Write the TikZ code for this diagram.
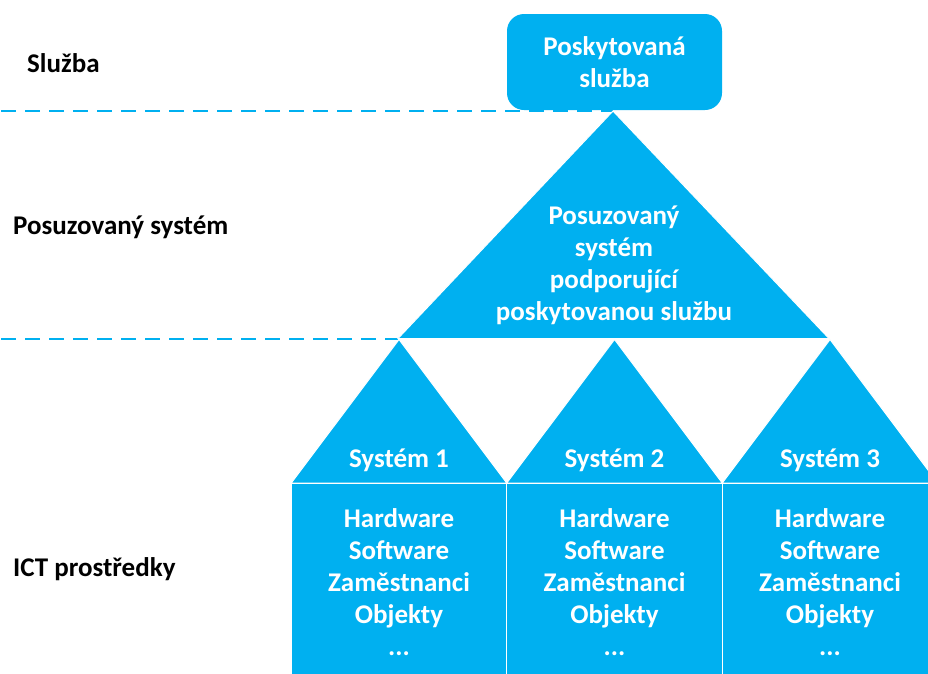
\documentclass[tikz,border=0pt]{standalone}
\usepackage{fontspec}
\setmainfont{Carlito}
\definecolor{cblue}{HTML}{00B0F0}
\begin{document}
\begin{tikzpicture}[x=1pt,y=-1pt,
  shapefill/.style={fill=cblue,draw=white,line width=1pt},
  sep/.style={draw=cblue,line width=1.6pt,dash pattern=on 15pt off 9pt},
  wtext/.style={text=white,font=\fontsize{27}{32}\selectfont\bfseries,align=center,inner sep=0pt},
  ltext/.style={text=black,font=\fontsize{27}{32}\selectfont\bfseries,anchor=west,inner sep=0pt}]
\useasboundingbox (0,0) rectangle (928,673);
\clip (0,0) rectangle (928,673);
% separators
\coordinate (s1a) at (1,111);
\coordinate (s1b) at (613,111);
\coordinate (s2a) at (1,339);
\coordinate (s2b) at (398,339);
\draw[sep] (s1a) -- (s1b);
\draw[sep] (s2a) -- (s2b);
% top box
\node[shapefill,draw=none,rounded corners=17pt,minimum width=215pt,minimum height=96pt] (topbox) at (614.5,62) {};
\node[wtext] (toptext) at (614.5,62.5) {Poskytovaná\\služba};
% big triangle
\filldraw[shapefill] (613,111) -- (398,338.5) -- (829,338.5) -- cycle;
\node[wtext] (bigtext) at (614,265) {Posuzovaný\\systém\\podporující\\poskytovanou službu};
% small triangles and boxes
\foreach \cx/\n in {399/1,614.5/2,830/3}{
  \filldraw[shapefill] (\cx,339.5) -- ({\cx-107.75},483) -- ({\cx+107.75},483) -- cycle;
  \filldraw[shapefill] ({\cx-107.75},483) rectangle ({\cx+107.75},700);
  \node[wtext] (sys\n) at (\cx,460) {Systém \n};
  \node[wtext] (items\n) at (\cx,582) {Hardware\\Software\\Zaměstnanci\\Objekty\\...};
}
% left labels
\node[ltext] (l1) at (27,63) {Služba};
\node[ltext] (l2) at (13,227) {Posuzovaný systém};
\node[ltext] (l3) at (13,569) {ICT prostředky};
\end{tikzpicture}
\end{document}
